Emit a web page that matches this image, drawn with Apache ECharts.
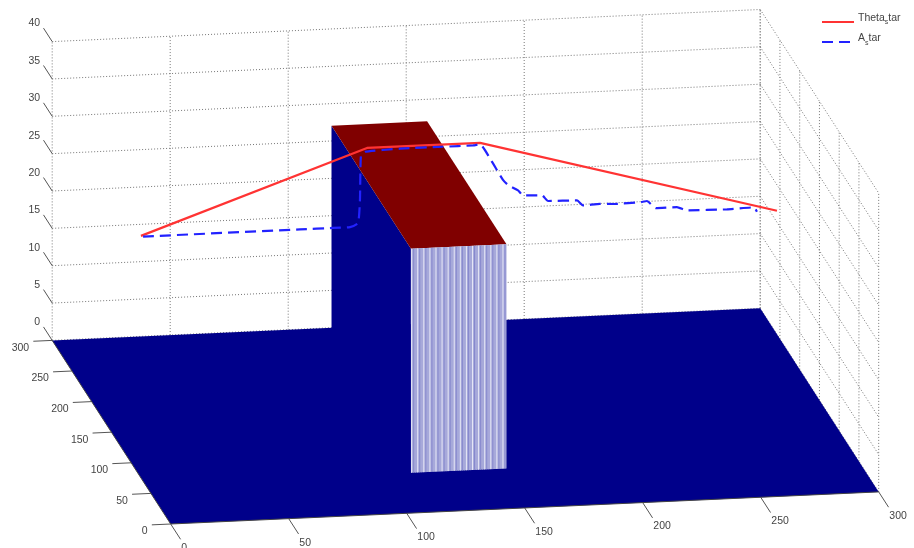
<!DOCTYPE html>
<html><head><meta charset="utf-8">
<style>html,body{margin:0;padding:0;background:#fff}#c{width:914px;height:548px}</style>
<script src="https://cdn.jsdelivr.net/npm/echarts@6/dist/echarts.min.js"></script>
</head><body><div id="c"></div>
<script>
// ---- data ----
const xTicks = [0, 50, 100, 150, 200, 250, 300];
const yTicks = [0, 50, 100, 150, 200, 250, 300];
const zTicks = [0, 5, 10, 15, 20, 25, 30, 35, 40];
const blockX = [112.5, 153];
const blockY = [64, 265];
const blockHeight = 30;
const linePlaneY = 150;
const thetaX = [12.5, 108.3, 156.2, 282];
const thetaZ = [26.1, 36.5, 36.5, 25.6];
const aX = [13.4, 79.9, 93.9, 101.1, 104.5, 105.3, 105.7, 107.4, 122.3, 140.5, 153.2, 156.2, 161.2, 165.9, 168, 172.3, 174.4, 182.4, 185, 197.3, 199.8, 207, 212.9, 224.8, 226.9, 230.7, 239.6, 243.9, 260.8, 272.3, 273.5];
const aZ = [26.0, 26.0, 26.0, 26.0, 26.5, 29.6, 35.4, 36.0, 36.2, 36.2, 36.2, 36.3, 33.9, 31.4, 30.7, 29.9, 29.2, 29.1, 28.3, 28.2, 27.5, 27.6, 27.5, 27.6, 27.7, 26.7, 26.7, 26.2, 26.1, 26.2, 25.6];

// ---- orthographic view of the 3-D box ----
function project(x, y, z) {
  return [170.7 + 2.36 * x - 0.395 * y, 524 - 0.107 * x - 0.612 * y - 7.47 * z];
}
const xMax = 300, yMax = 300, zMax = 40;

const gridSegs = [];
zTicks.forEach(z => {
  gridSegs.push([[0, yMax, z], [xMax, yMax, z]]);
  gridSegs.push([[xMax, yMax, z], [xMax, 0, z]]);
});
xTicks.forEach(x => gridSegs.push([[x, yMax, 0], [x, yMax, zMax]]));
yTicks.forEach(y => gridSegs.push([[xMax, y, 0], [xMax, y, zMax]]));

const [bx0, bx1] = blockX, [by0, by1] = blockY, bh = blockHeight;
const faces = [
  {c: '#00008a', p: [[0, 0, 0], [xMax, 0, 0], [xMax, yMax, 0], [0, yMax, 0]]},
  {c: '#00008a', p: [[bx0, by0, 0], [bx0, by1, 0], [bx0, by1, bh], [bx0, by0, bh]]},
  {c: '#800000', p: [[bx0, by0, bh], [bx1, by0, bh], [bx1, by1, bh], [bx0, by1, bh]]},
  {c: '#a7a9da', p: [[bx0, by0, 0], [bx1, by0, 0], [bx1, by0, bh], [bx0, by0, bh]]}
];

const stripes = [];
for (let i = 0, x = bx0 + 0.3; x < bx1; i++, x += 0.86) stripes.push({x, kind: i % 3});

const tickSegs = [];
const labels = [];
zTicks.forEach(z => {
  tickSegs.push([[0, yMax, z], [0, yMax + 22, z]]);
  labels.push({t: String(z), at: [0, yMax, z], dx: -12, dy: -18, align: 'right'});
});
yTicks.forEach(y => {
  tickSegs.push([[0, y, 0], [-8, y, 0]]);
  labels.push({t: String(y), at: [0, y, 0], dx: -23, dy: 7.5, align: 'right'});
});
xTicks.forEach(x => {
  tickSegs.push([[x, 0, 0], [x, -25, 0]]);
  labels.push({t: String(x), at: [x, 0, 0], dx: 10.6, dy: 24, align: 'left'});
});
const axisSegs = [[[0, 0, 0], [0, yMax, 0]], [[0, 0, 0], [xMax, 0, 0]]];

function pts(api, list) {
  return list.map(p => api.coord(project(p[0], p[1], p[2])));
}
function segSeries(name, segs, style) {
  return {
    type: 'custom', name, coordinateSystem: 'cartesian2d', silent: true, clip: false,
    data: segs.map((s, i) => [i]),
    renderItem: (params, api) => ({
      type: 'polyline',
      shape: {points: pts(api, segs[params.dataIndex])},
      style: Object.assign({fill: null}, style)
    })
  };
}

const option = {
  animation: false,
  backgroundColor: '#fff',
  grid: {left: 0, right: 0, top: 0, bottom: 0},
  xAxis: {type: 'value', min: 0, max: 914, show: false},
  yAxis: {type: 'value', min: 0, max: 548, inverse: true, show: false},
  legend: {
    orient: 'vertical', left: 816, top: 8, itemWidth: 32, itemHeight: 14, itemGap: 5.5,
    data: ['Theta_s tar', 'A_s tar'],
    itemStyle: {opacity: 0},
    formatter: n => n === 'Theta_s tar' ? 'Theta{s|s}tar' : 'A{s|s}tar',
    textStyle: {
      fontFamily: 'Liberation Sans', fontSize: 10.5, color: '#444', padding: [-7, 0, 0, -1],
      rich: {s: {fontFamily: 'Liberation Sans', fontSize: 7, color: '#444', padding: [8, 0, 0, 0]}}
    }
  },
  series: [
    segSeries('grid', gridSegs, {stroke: '#777', lineWidth: 1, lineDash: [1, 2]}),
    {
      type: 'custom', name: 'surface', coordinateSystem: 'cartesian2d', silent: true, clip: false,
      data: faces.map((f, i) => [i]),
      renderItem: (params, api) => {
        const f = faces[params.dataIndex];
        return {type: 'polygon', shape: {points: pts(api, f.p)}, style: {fill: f.c}};
      }
    },
    {
      type: 'custom', name: 'mesh', coordinateSystem: 'cartesian2d', silent: true, clip: false,
      data: stripes.map((s, i) => [i]),
      renderItem: (params, api) => {
        const s = stripes[params.dataIndex];
        return {
          type: 'polyline',
          shape: {points: pts(api, [[s.x, by0, 0], [s.x, by0, bh]])},
          style: {
            fill: null, lineWidth: 1,
            stroke: s.kind === 0 ? '#e6e7f6' : (s.kind === 1 ? '#8688cd' : '#a7a9da')
          }
        };
      }
    },
    segSeries('ticks', tickSegs, {stroke: '#555', lineWidth: 1}),
    segSeries('axes', axisSegs, {stroke: '#444', lineWidth: 1}),
    {
      type: 'custom', name: 'labels', coordinateSystem: 'cartesian2d', silent: true, clip: false,
      data: labels.map((l, i) => [i]),
      renderItem: (params, api) => {
        const l = labels[params.dataIndex];
        const c = api.coord(project(l.at[0], l.at[1], l.at[2]));
        return {
          type: 'text',
          style: {
            text: l.t, x: c[0] + l.dx, y: c[1] + l.dy, align: l.align, verticalAlign: 'middle',
            fontFamily: 'Liberation Sans', fontSize: 10.5, fill: '#444'
          }
        };
      }
    },
    {
      type: 'line', name: 'Theta_s tar', symbol: 'none', silent: true,
      data: thetaX.map((x, i) => project(x, linePlaneY, thetaZ[i])),
      lineStyle: {color: '#ff3333', width: 2.2},
      itemStyle: {color: '#ff3333'}
    },
    {
      type: 'line', name: 'A_s tar', symbol: 'none', silent: true, smooth: 0.15,
      data: aX.map((x, i) => project(x, linePlaneY, aZ[i])),
      lineStyle: {color: '#2222ff', width: 2.2, type: [11, 6]},
      itemStyle: {color: '#2222ff'}
    }
  ]
};
echarts.init(document.getElementById('c'), null, {renderer: 'canvas'}).setOption(option);
</script></body></html>
